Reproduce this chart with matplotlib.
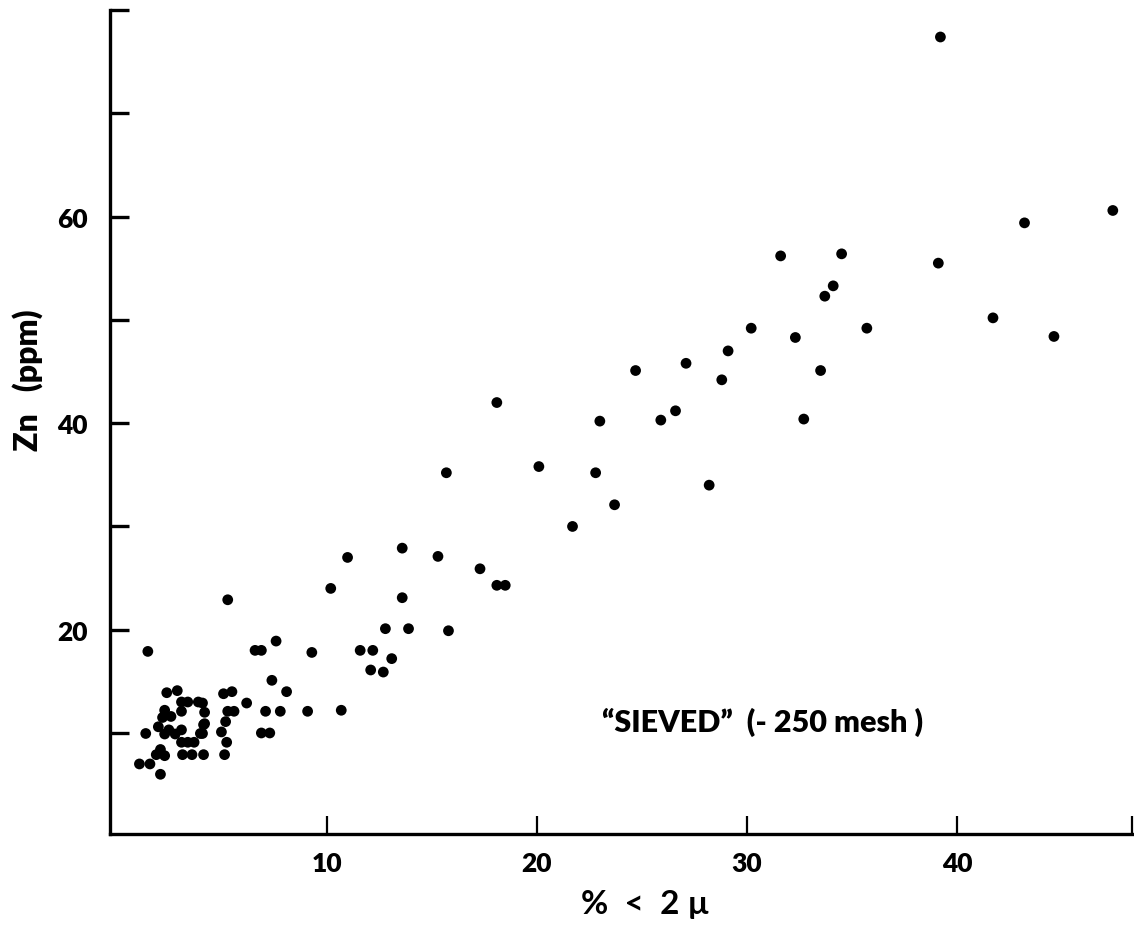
import matplotlib
matplotlib.use("Agg")
import matplotlib.pyplot as plt

# % < 2 micron (clay fraction) vs Zn (ppm), "sieved" samples
clay_pct = [
    39.2, 47.4, 43.2, 39.1, 31.6, 34.5, 34.1, 33.7, 35.7, 41.7,
    44.6, 30.2, 32.3, 29.1, 28.8, 27.1, 26.6, 25.9, 24.7, 33.5,
    32.7, 23.0, 18.1, 28.2, 22.8, 20.1, 23.7, 21.7, 15.7, 13.6,
    11.0, 15.3, 17.3, 10.2, 18.1, 18.5, 5.3, 13.6, 13.9, 15.8,
    12.8, 1.5, 7.6, 6.6, 6.9, 9.3, 11.6, 12.2, 13.1, 12.1,
    12.7, 7.4, 8.1, 5.1, 5.5, 6.2, 4.1, 7.1, 7.8, 9.1,
    10.7, 5.3, 5.6, 4.2, 4.2, 5.2, 5.0, 6.9, 7.3, 4.1,
    2.4, 2.9, 3.1, 3.4, 3.9, 2.3, 2.2, 2.6, 3.1, 2.0,
    2.5, 2.3, 2.8, 1.4, 3.1, 4.0, 3.1, 3.4, 3.7, 4.15,
    3.15, 3.6, 4.15, 1.9, 2.3, 2.1, 1.1, 1.6, 2.1, 5.25,
    5.15,
]
zn_ppm = [
    77.4, 60.6, 59.4, 55.5, 56.2, 56.4, 53.3, 52.3, 49.2, 50.2,
    48.4, 49.2, 48.3, 47.0, 44.2, 45.8, 41.2, 40.3, 45.1, 45.1,
    40.4, 40.2, 42.0, 34.0, 35.2, 35.8, 32.1, 30.0, 35.2, 27.9,
    27.0, 27.1, 25.9, 24.0, 24.3, 24.3, 22.9, 23.1, 20.1, 19.9,
    20.1, 17.9, 18.9, 18.0, 18.0, 17.8, 18.0, 18.0, 17.2, 16.1,
    15.9, 15.1, 14.0, 13.8, 14.0, 12.9, 12.9, 12.1, 12.1, 12.1,
    12.2, 12.1, 12.1, 12.0, 10.9, 11.1, 10.1, 10.0, 10.0, 9.95,
    13.9, 14.1, 13.0, 13.0, 13.0, 12.2, 11.5, 11.6, 12.1, 10.6,
    10.3, 9.9, 9.9, 9.95, 10.3, 9.95, 9.1, 9.1, 9.1, 10.8,
    7.9, 7.9, 7.9, 7.9, 7.8, 8.4, 7.0, 7.0, 6.0, 9.1,
    7.9,
]

x_ticks = [10, 20, 30, 40, 48.3]
x_labels = ["10", "20", "30", "40", ""]
y_ticks = [10, 20, 30, 40, 50, 60, 70, 80]
y_labels = ["", "20", "", "40", "", "60", "", ""]

plt.rcParams["font.family"] = ["Lato", "DejaVu Sans"]

fig = plt.figure(figsize=(11.34, 9.29), dpi=100)
ax = fig.add_axes([0.097, 0.101, 0.901, 0.887])

ax.scatter(clay_pct, zn_ppm, s=60, color="black", edgecolors="none", zorder=3)

ax.set_xlim(-0.3, 48.3)
ax.set_ylim(0.2, 80)

ax.spines["top"].set_visible(False)
ax.spines["right"].set_visible(False)
for side in ("left", "bottom"):
    ax.spines[side].set_linewidth(2.4)

ax.set_xticks(x_ticks)
ax.set_xticklabels(x_labels, fontsize=19, fontweight="heavy")
ax.set_yticks(y_ticks)
ax.set_yticklabels(y_labels, fontsize=19, fontweight="heavy")
ax.tick_params(axis="x", direction="in", length=13, width=1.6, pad=12)
ax.tick_params(axis="y", direction="in", length=14, width=2.4, pad=16)

ax.set_xlabel("%  <  2 µ", fontsize=24, fontweight="bold", va="center")
ax.set_ylabel("Zn   (ppm)", fontsize=23, fontweight="heavy", va="center")
ax.xaxis.set_label_coords(0.524, -0.084)
ax.yaxis.set_label_coords(-0.081, 0.552)

ax.text(23.1, 11.1, "\u201cSIEVED\u201d  (- 250 mesh )", fontsize=22,
        fontweight="heavy", ha="left", va="center")

fig.savefig("out.png", dpi=100)
